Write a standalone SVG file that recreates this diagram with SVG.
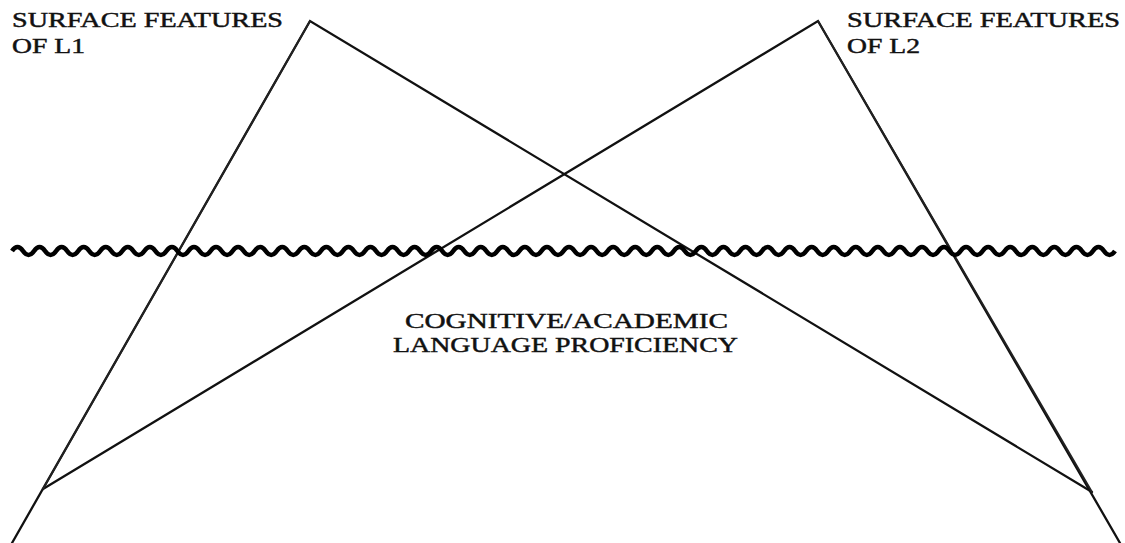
<svg xmlns="http://www.w3.org/2000/svg" width="1125" height="543" viewBox="0 0 1125 543">
<style>
.lbl{font-family:"Liberation Serif","Times New Roman",serif;font-size:21px;fill:#111;stroke:#111;stroke-width:0.45;}
.ctr{font-family:"Liberation Serif","Times New Roman",serif;font-size:22px;fill:#111;stroke:#111;stroke-width:0.45;}
.leg{stroke:#111;stroke-width:2.3;fill:none;stroke-linecap:round;stroke-linejoin:miter;}
.inner{stroke:#222;stroke-width:1.8;fill:none;stroke-linecap:round;}
.wave{stroke:#000;stroke-width:4.6;fill:none;stroke-linecap:butt;}
</style>
<rect width="1125" height="543" fill="#fff"/>
<g id="connectors">
  <path class="leg" d="M12,543 L310,21 L1092,492"/>
  <path class="leg" d="M1120,543 L818,21 L43,489"/>
  <path class="inner" d="M43,489 L310,21"/>
  <path class="inner" d="M1092,492 L818,21"/>
</g>
<g id="surface-line">
  <path class="wave" d="M12,251 q5.5,-8 11.03,0
  t11.03,0 t11.03,0 t11.03,0 t11.03,0 t11.03,0 t11.03,0 t11.03,0 t11.03,0 t11.03,0 t11.03,0
  t11.03,0 t11.03,0 t11.03,0 t11.03,0 t11.03,0 t11.03,0 t11.03,0 t11.03,0 t11.03,0 t11.03,0
  t11.03,0 t11.03,0 t11.03,0 t11.03,0 t11.03,0 t11.03,0 t11.03,0 t11.03,0 t11.03,0 t11.03,0
  t11.03,0 t11.03,0 t11.03,0 t11.03,0 t11.03,0 t11.03,0 t11.03,0 t11.03,0 t11.03,0 t11.03,0
  t11.03,0 t11.03,0 t11.03,0 t11.03,0 t11.03,0 t11.03,0 t11.03,0 t11.03,0 t11.03,0 t11.03,0
  t11.03,0 t11.03,0 t11.03,0 t11.03,0 t11.03,0 t11.03,0 t11.03,0 t11.03,0 t11.03,0 t11.03,0
  t11.03,0 t11.03,0 t11.03,0 t11.03,0 t11.03,0 t11.03,0 t11.03,0 t11.03,0 t11.03,0 t11.03,0
  t11.03,0 t11.03,0 t11.03,0 t11.03,0 t11.03,0 t11.03,0 t11.03,0 t11.03,0 t11.03,0 t11.03,0
  t11.03,0 t11.03,0 t11.03,0 t11.03,0 t11.03,0 t11.03,0 t11.03,0 t11.03,0 t11.03,0 t11.03,0
  t11.03,0 t11.03,0 t11.03,0 t11.03,0 t11.03,0 t11.03,0 t11.03,0 t11.03,0 t11.03,0"/>
</g>
<g id="label-l1">
  <text class="lbl" x="12" y="27" textLength="271" lengthAdjust="spacingAndGlyphs">SURFACE FEATURES</text>
  <text class="lbl" x="12" y="53" textLength="73" lengthAdjust="spacingAndGlyphs">OF L1</text>
</g>
<g id="label-l2">
  <text class="lbl" x="847" y="27" textLength="273" lengthAdjust="spacingAndGlyphs">SURFACE FEATURES</text>
  <text class="lbl" x="847" y="53" textLength="73" lengthAdjust="spacingAndGlyphs">OF L2</text>
</g>
<g id="label-calp">
  <text class="ctr" x="405" y="328" textLength="323" lengthAdjust="spacingAndGlyphs">COGNITIVE/ACADEMIC</text>
  <text class="ctr" x="393" y="352" textLength="345" lengthAdjust="spacingAndGlyphs">LANGUAGE PROFICIENCY</text>
</g>
</svg>
